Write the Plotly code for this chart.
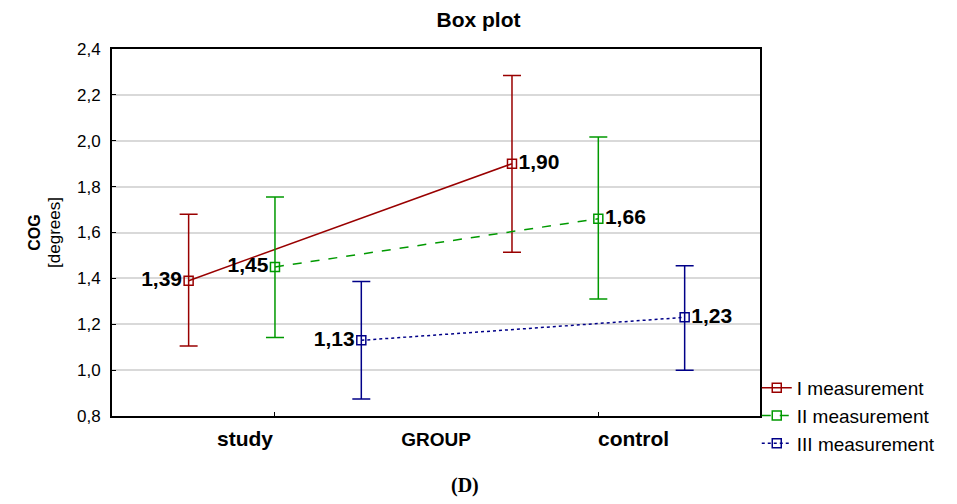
import plotly.graph_objects as go

groups = ["study", "control"]
series = ["I measurement", "II measurement", "III measurement"]
means = {
    "I measurement": [1.39, 1.90],
    "II measurement": [1.45, 1.66],
    "III measurement": [1.13, 1.23],
}
upper = {
    "I measurement": [1.68, 2.285],
    "II measurement": [1.755, 2.016],
    "III measurement": [1.386, 1.455],
}
lower = {
    "I measurement": [1.105, 1.514],
    "II measurement": [1.142, 1.31],
    "III measurement": [0.874, 1.0],
}
labels = {
    "I measurement": ["1,39", "1,90"],
    "II measurement": ["1,45", "1,66"],
    "III measurement": ["1,13", "1,23"],
}
colors = {"I measurement": "#990000", "II measurement": "#009900", "III measurement": "#000088"}
dashes = {"I measurement": "solid", "II measurement": "dash", "III measurement": "dot"}
offsets = {"I measurement": -0.267, "II measurement": 0.0, "III measurement": 0.267}
y_ticks = [0.8, 1.0, 1.2, 1.4, 1.6, 1.8, 2.0, 2.2, 2.4]

fig = go.Figure()
for s in series:
    xs = [i + offsets[s] for i in range(len(groups))]
    m = means[s]
    fig.add_trace(go.Scatter(
        x=xs, y=m, name=s, mode="lines+markers+text",
        line=dict(color=colors[s], width=1.5, dash=dashes[s]),
        marker=dict(symbol="square-open", size=9, color=colors[s], line=dict(width=1.5, color=colors[s])),
        error_y=dict(type="data", symmetric=False,
                     array=[u - v for u, v in zip(upper[s], m)],
                     arrayminus=[v - l for v, l in zip(m, lower[s])],
                     color=colors[s], thickness=1.5, width=9),
        text=labels[s], textposition=["middle left", "middle right"],
        textfont=dict(family="Arial, Liberation Sans", size=21, color="black", weight="bold"),
    ))

for i, g in enumerate(groups):
    fig.add_annotation(x=i, y=0, xref="x", yref="paper", yanchor="middle", yshift=-22,
                       xshift=-30 if i == 0 else 35, showarrow=False, text="<b>" + g + "</b>",
                       font=dict(family="Arial, Liberation Sans", size=21, color="black"))

fig.add_annotation(x=(465 - 112) / 648, y=-(485 - 416) / 367, xref="paper", yref="paper",
                   xanchor="center", yanchor="middle",
                   showarrow=False, text="<b>(D)</b>",
                   font=dict(family="Liberation Serif, Times New Roman", size=20, color="black"))

fig.update_layout(
    width=957, height=504,
    margin=dict(l=112, r=197, t=49, b=88, autoexpand=False),
    paper_bgcolor="white", plot_bgcolor="white",
    separators=",.",
    font=dict(family="Arial, Liberation Sans", color="black", size=15),
    title=dict(text="<b>Box plot</b>", x=0.5, xanchor="center", y=1 - 20 / 504, yanchor="middle",
               font=dict(size=21)),
    showlegend=True,
    legend=dict(x=0.995, y=0.128, xanchor="left", yanchor="top", bgcolor="rgba(0,0,0,0)",
                font=dict(size=19), tracegroupgap=0, itemwidth=30),
    xaxis=dict(range=[-0.504, 1.5], tickvals=[0, 1], showticklabels=False, automargin=False,
               ticks="inside", ticklen=4, tickcolor="black",
               showgrid=False, zeroline=False, showline=True, mirror=True, linecolor="black", linewidth=2,
               title=dict(text="<b>GROUP</b>", standoff=16, font=dict(size=19))),
    yaxis=dict(range=[0.8, 2.4], tickvals=y_ticks, tickformat=".1f", automargin=False,
               ticks="inside", ticklen=4, tickcolor="black", ticklabelstandoff=6,
               showgrid=True, gridcolor="#d9d9d9", gridwidth=2, zeroline=False,
               showline=True, mirror=True, linecolor="black", linewidth=2,
               tickfont=dict(size=17),
               title=dict(text="<b>COG</b><br><span style='font-weight:normal;font-size:17px'>[degrees]</span>",
                          standoff=12, font=dict(size=16))),
)

fig.write_html("out.html", config={"displayModeBar": False},
               post_script="document.body.style.margin='0';")
